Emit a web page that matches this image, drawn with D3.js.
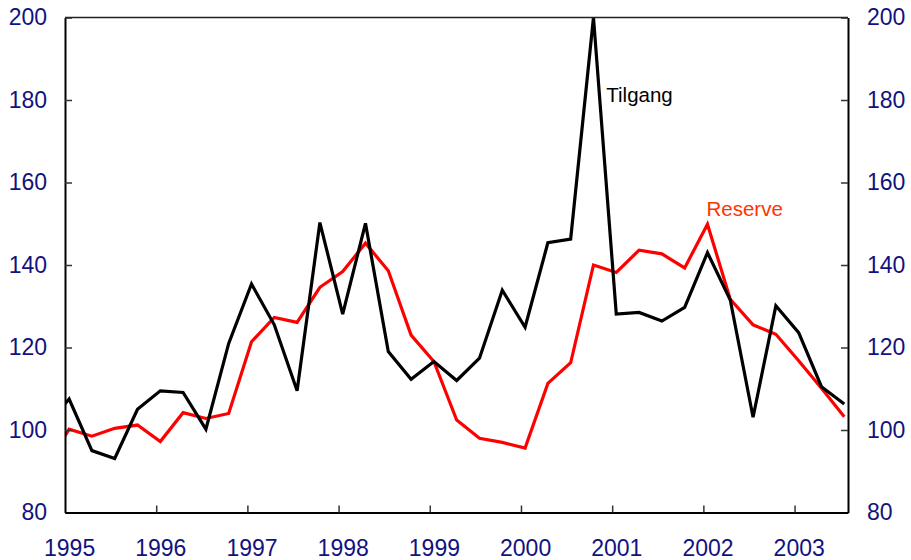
<!DOCTYPE html>
<html>
<head>
<meta charset="utf-8">
<script src="https://cdn.jsdelivr.net/npm/d3@7"></script>
<style>
  body { margin: 0; background: #fff; }
  svg { font-family: "Liberation Sans", Arial, sans-serif; }
</style>
</head>
<body>
<div id="chart"></div>
<script>
// kvartaler, første punkt (1994K4) ligger utenfor aksen og klippes
const periods = [
  "1994Q4",
  "1995Q1", "1995Q2", "1995Q3", "1995Q4",
  "1996Q1", "1996Q2", "1996Q3", "1996Q4",
  "1997Q1", "1997Q2", "1997Q3", "1997Q4",
  "1998Q1", "1998Q2", "1998Q3", "1998Q4",
  "1999Q1", "1999Q2", "1999Q3", "1999Q4",
  "2000Q1", "2000Q2", "2000Q3", "2000Q4",
  "2001Q1", "2001Q2", "2001Q3", "2001Q4",
  "2002Q1", "2002Q2", "2002Q3", "2002Q4",
  "2003Q1", "2003Q2", "2003Q3"
];

const tilgang = [
  101,
  107.5, 95.0, 93.1, 105.0,
  109.5, 109.1, 100.2, 121.0,
  135.4, 125.5, 109.5, 150.3,
  128.1, 150.1, 119.0, 112.3,
  116.6, 112.0, 117.4, 133.9,
  124.9, 145.4, 146.3, 200,
  128.1, 128.5, 126.4, 129.7,
  143.0, 131.5, 103.1, 130.1,
  123.6, 110.5, 106.3
];

const reserve = [
  91,
  100.2, 98.5, 100.4, 101.2,
  97.2, 104.2, 102.8, 104.0,
  121.4, 127.3, 126.1, 134.6,
  138.4, 145.3, 138.6, 123.0,
  116.6, 102.4, 98.0, 97.0,
  95.6, 111.3, 116.3, 140.0,
  138.2, 143.6, 142.7, 139.3,
  149.9, 131.7, 125.5, 123.2,
  116.8, 110.1, 103.2
];

const yearLabels = [1995, 1996, 1997, 1998, 1999, 2000, 2001, 2002, 2003];
const yTicks = [80, 100, 120, 140, 160, 180, 200];

const width = 911;
const height = 560;
const margin = { top: 17.5, right: 63, bottom: 47.5, left: 65 };
const navy = '#12127e';

// punktene ligger litt inn i kvartalet
const qOffset = 0.045;
const toYear = (p) => +p.slice(0, 4) + (+p.slice(5) - 1) / 4 + qOffset;

const svg = d3.select('#chart').append('svg')
  .attr('width', width)
  .attr('height', height);

const x = d3.scaleLinear()
  .domain([1995, 2003.586])
  .range([margin.left, width - margin.right]);

const y = d3.scaleLinear()
  .domain([80, 200])
  .range([height - margin.bottom, margin.top]);

svg.append('clipPath').attr('id', 'plot-clip')
  .append('rect')
  .attr('x', margin.left)
  .attr('y', 0)
  .attr('width', width - margin.right - margin.left)
  .attr('height', height);

const line = (values) => d3.line()
  .x((d, i) => x(toYear(periods[i])))
  .y((d) => y(d))(values);

const lines = svg.append('g').attr('clip-path', 'url(#plot-clip)');

lines.append('path')
  .attr('d', line(reserve))
  .attr('fill', 'none')
  .attr('stroke', '#ff0000')
  .attr('stroke-width', 3.2);

lines.append('path')
  .attr('d', line(tilgang))
  .attr('fill', 'none')
  .attr('stroke', '#000')
  .attr('stroke-width', 3.2);

// akser
const styleAxis = (g) => {
  g.select('.domain').attr('stroke', '#000').attr('stroke-width', 2);
  g.selectAll('.tick line').attr('stroke', '#333').attr('stroke-width', 1.5);
  g.selectAll('.tick text').attr('fill', navy).attr('font-size', 23);
};

svg.append('g')
  .attr('transform', `translate(${margin.left},0)`)
  .call(d3.axisLeft(y).tickValues(yTicks).tickSize(-7).tickPadding(18).tickSizeOuter(0))
  .call(styleAxis);

svg.append('g')
  .attr('transform', `translate(${width - margin.right},0)`)
  .call(d3.axisRight(y).tickValues(yTicks).tickSize(-7).tickPadding(19).tickSizeOuter(0))
  .call(styleAxis);

// tick-streker på årsskiftene
svg.append('g')
  .attr('transform', `translate(0,${height - margin.bottom})`)
  .call(d3.axisBottom(x).tickValues(yearLabels.slice(1)).tickSize(-7).tickFormat('').tickSizeOuter(0))
  .call(styleAxis);

// årstall under første kvartal
svg.append('g')
  .attr('transform', `translate(0,${height - margin.bottom})`)
  .call(d3.axisBottom(x).tickValues(yearLabels.map((yr) => yr + qOffset)).tickSize(0).tickPadding(27)
    .tickFormat((d) => Math.floor(d)))
  .call((g) => g.select('.domain').remove())
  .call(styleAxis);

svg.append('line')
  .attr('x1', margin.left).attr('x2', width - margin.right)
  .attr('y1', margin.top).attr('y2', margin.top)
  .attr('stroke', '#222').attr('stroke-width', 1.5);

// seriestekster
svg.append('text')
  .attr('x', x(toYear('2001Q1')) - 10)
  .attr('y', y(179.5))
  .attr('font-size', 20.5)
  .attr('fill', '#000')
  .text('Tilgang');

svg.append('text')
  .attr('x', x(toYear('2002Q1')) - 1)
  .attr('y', y(152))
  .attr('font-size', 20.5)
  .attr('fill', '#ff3300')
  .text('Reserve');
</script>
</body>
</html>
